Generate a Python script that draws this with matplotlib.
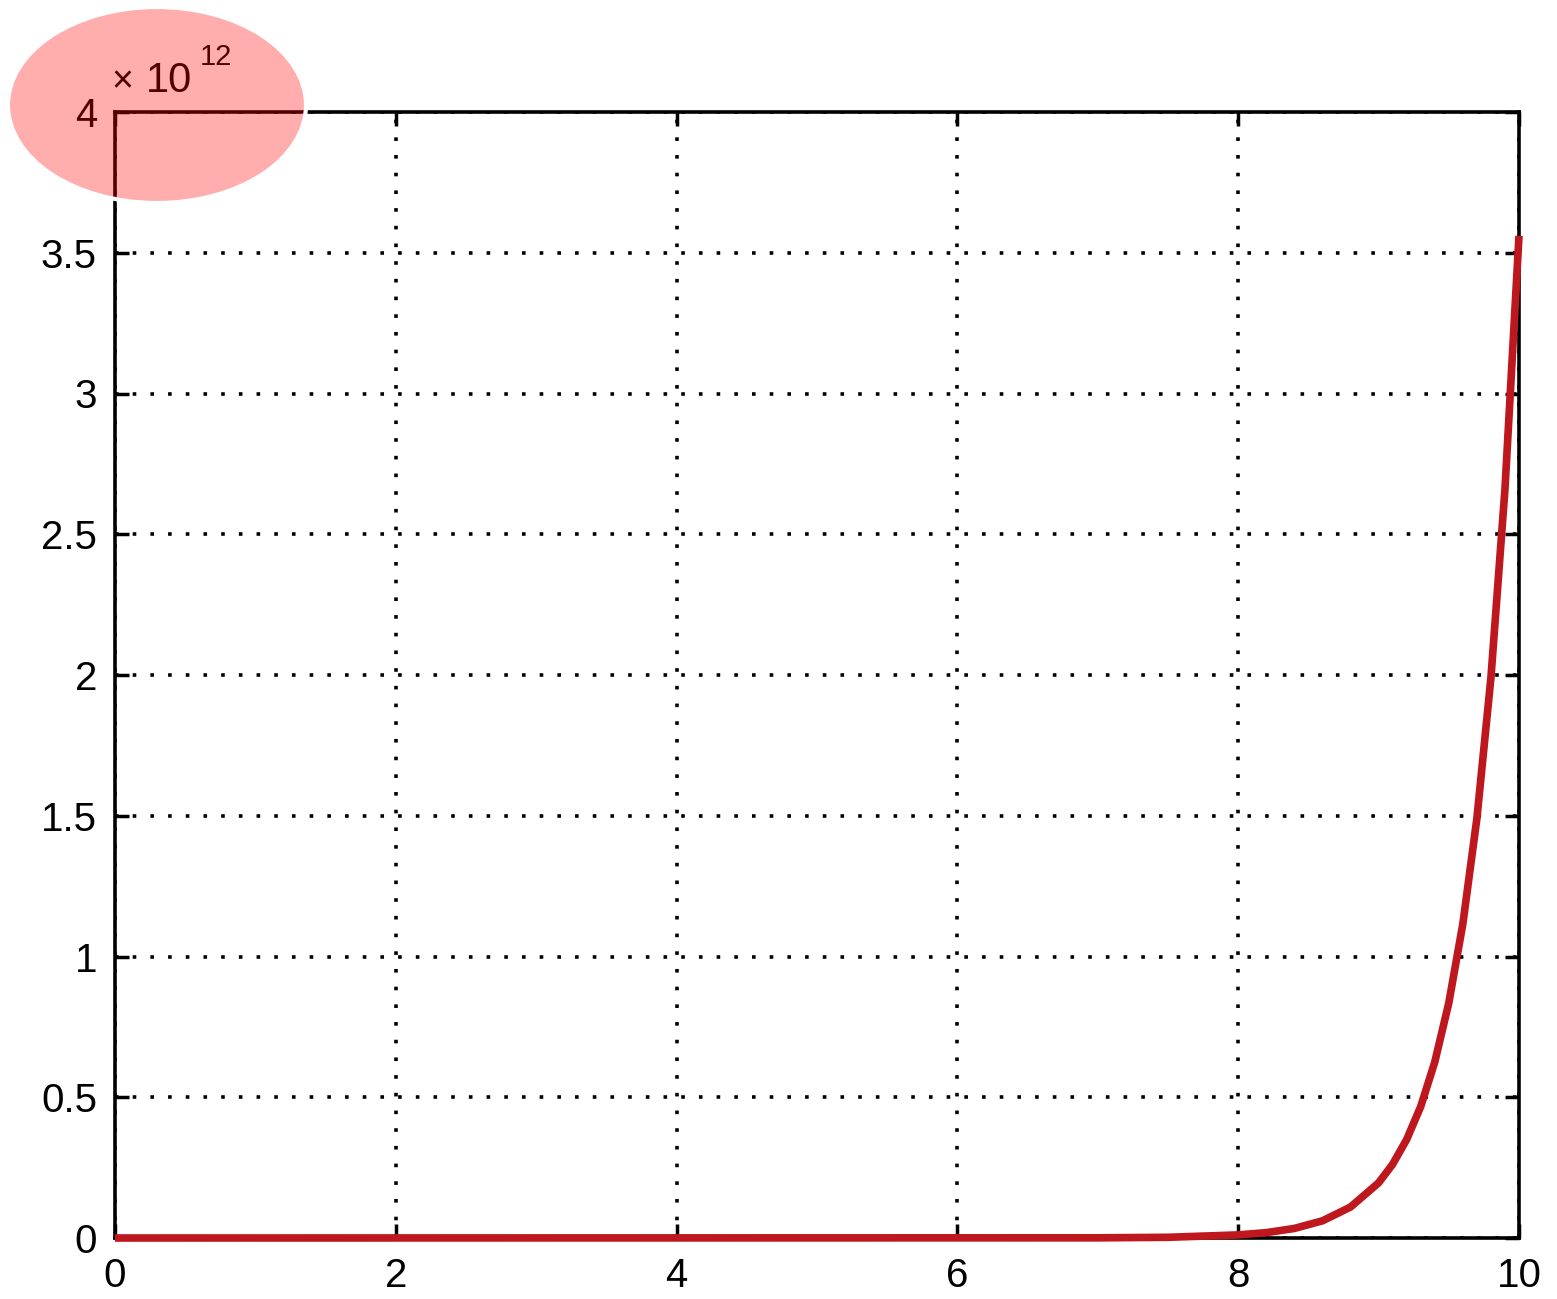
import matplotlib.pyplot as plt
from matplotlib.patches import Ellipse
from matplotlib.ticker import FuncFormatter

plt.rcParams["font.family"] = ["Liberation Sans", "DejaVu Sans"]

# growth curve, y in raw units
x_vals = [0.0, 7.0, 7.5, 8.0, 8.2, 8.4, 8.6, 8.8, 9.0, 9.1, 9.2, 9.3,
          9.4, 9.5, 9.6, 9.7, 9.8, 9.9, 10.0]
y_vals = [0.0, 0.0006e12, 0.0025e12, 0.011e12, 0.019e12, 0.034e12,
          0.061e12, 0.110e12, 0.196e12, 0.262e12, 0.350e12, 0.467e12,
          0.625e12, 0.835e12, 1.116e12, 1.49e12, 1.99e12, 2.66e12, 3.56e12]

x_ticks = [0, 2, 4, 6, 8, 10]
y_ticks = [0, 0.5e12, 1e12, 1.5e12, 2e12, 2.5e12, 3e12, 3.5e12, 4e12]
scale = 1e12

W, H = 1557, 1299
fig = plt.figure(figsize=(W / 100, H / 100), dpi=100)
ax = fig.add_axes([115 / W, 1 - 1238 / H, 1404 / W, 1126 / H])

ax.plot(x_vals, y_vals, color="#BE171D", lw=5.5, solid_capstyle="butt",
        clip_on=False, zorder=4)

ax.set_xlim(0, 10)
ax.set_ylim(0, 4e12)
ax.set_xticks(x_ticks)
ax.set_yticks(y_ticks)
ax.yaxis.set_major_formatter(FuncFormatter(lambda v, p: "%g" % (v / scale)))
ax.xaxis.set_major_formatter(FuncFormatter(lambda v, p: "%g" % v))

ax.grid(True, color="black", linestyle=(0, (1, 3.9)), linewidth=2.6)
ax.tick_params(direction="in", length=10, width=2.5, top=True, right=True,
               labelsize=29, colors="black")
ax.tick_params(axis="y", pad=13)
ax.tick_params(axis="x", pad=14)
for s in ax.spines.values():
    s.set_linewidth(2.6)
    s.set_zorder(3)

# exponent label
fig.text(111 / W, 1 - 92 / H, "\u00d7", fontsize=27, ha="left", va="baseline")
fig.text(146 / W, 1 - 92 / H, "10", fontsize=30, ha="left", va="baseline")
fig.text(200 / W, 1 - 65 / H, "12", fontsize=21, ha="left", va="baseline")

# highlight ellipse
ell = Ellipse((157 / W, 1 - 105 / H), 298 / W, 196 / H,
              transform=fig.transFigure, facecolor=(1, 0, 0, 0.32),
              edgecolor="white", linewidth=3, zorder=10)
fig.patches.append(ell)

fig.savefig("out.png", dpi=100, facecolor="white")
